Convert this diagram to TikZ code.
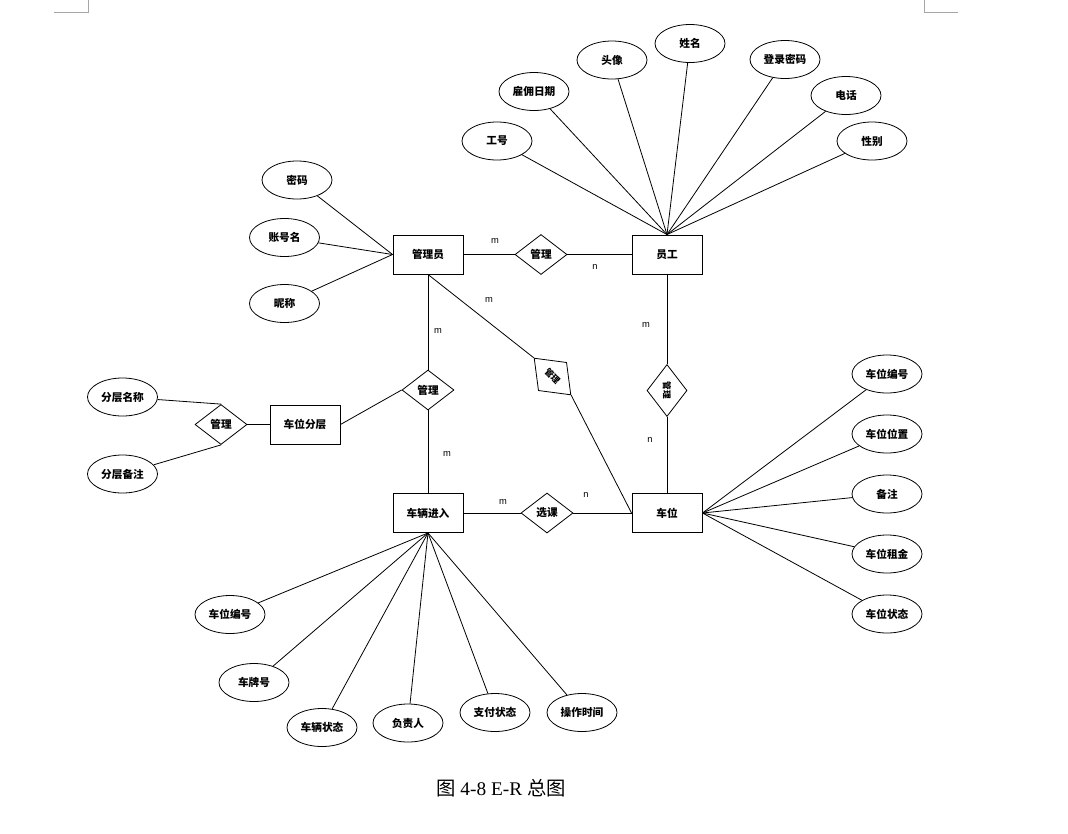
\documentclass[tikz,border=0pt]{standalone}
\usepackage{fontspec}
\setmainfont{Liberation Serif}
\newfontfamily\cjk{Noto Sans CJK SC}
\newfontfamily\lab{Liberation Sans}
\usetikzlibrary{shapes.geometric}
\tikzset{
  ent/.style={draw, rectangle, minimum width=52.5pt, minimum height=29.25pt, inner sep=0pt, font=\cjk\fontsize{8}{9}\selectfont\bfseries, line width=0.7pt},
  att/.style={draw, ellipse, minimum width=52.5pt, minimum height=28.5pt, inner sep=0pt, font=\cjk\fontsize{8}{9}\selectfont\bfseries, line width=0.6pt},
  rel/.style={draw, diamond, minimum width=39pt, minimum height=30pt, inner sep=0pt, font=\cjk\fontsize{8}{9}\selectfont\bfseries, line width=0.6pt},
  relsmall/.style={rel, font=\cjk\fontsize{6.5}{7}\selectfont\bfseries},
  card/.style={font=\lab\fontsize{7}{8}\selectfont, inner sep=0pt},
  conn/.style={line width=0.6pt},
  corner/.style={draw=gray!70, line width=0.6pt}
}
\begin{document}
\begin{tikzpicture}[x=0.75pt, y=-0.75pt]
\useasboundingbox (0,0) rectangle (1068,833);
% corner marks
\draw[corner] (54,12) -- (88,12) -- (88,0);
\draw[corner] (958,12) -- (924,12) -- (924,0);

% entities
\node[ent] (gly) at (428,254.5) {管理员};
\node[ent] (yg) at (667,254.5) {员工};
\node[ent] (cwfc) at (305,424.5) {车位分层};
\node[ent] (clrj) at (428,513) {车辆进入};
\node[ent] (cw) at (667,513) {车位};

% relationships
\node[rel] (r1) at (541,254.5) {管理};
\node[rel] (r2) at (428,390) {管理};
\node[rel] (r3) at (221,424.5) {管理};
\node[rel] (r4) at (547,513) {选课};
\node[relsmall, rotate=-45] (r5) at (552.5,376.5) {管理};
\node[relsmall, rotate=-90] (r6) at (667,390.5) {管理};

% attributes of 员工
\node[att] (a1) at (497,141) {工号};
\node[att] (a2) at (534,91.5) {雇佣日期};
\node[att] (a3) at (612,60) {头像};
\node[att] (a4) at (690,43.5) {姓名};
\node[att] (a5) at (785,59.5) {登录密码};
\node[att] (a6) at (846,95.5) {电话};
\node[att] (a7) at (872,141) {性别};
\foreach \a in {a1,a2,a3,a4,a5,a6,a7} \draw[conn] (\a) -- (yg.north);

% attributes of 管理员
\node[att] (b1) at (297,180) {密码};
\node[att] (b2) at (284.5,237.5) {账号名};
\node[att] (b3) at (284.5,303.5) {昵称};
\foreach \a in {b1,b2,b3} \draw[conn] (\a) -- (gly.west);

% attributes of 车位分层 (via diamond)
\node[att] (c1) at (122.5,397) {分层名称};
\node[att] (c2) at (122.5,474) {分层备注};
\draw[conn] (c1) -- (r3.north);
\draw[conn] (c2) -- (r3.south);
\draw[conn] (r3.east) -- (cwfc.west);

% attributes of 车位
\node[att] (d1) at (887,374) {车位编号};
\node[att] (d2) at (887,434) {车位位置};
\node[att] (d3) at (887,494) {备注};
\node[att] (d4) at (887,554) {车位租金};
\node[att] (d5) at (887,614) {车位状态};
\foreach \a in {d1,d2,d3,d4,d5} \draw[conn] (\a) -- (cw.east);

% attributes of 车辆进入
\node[att] (e1) at (230,614.5) {车位编号};
\node[att] (e2) at (254,682.5) {车牌号};
\node[att] (e3) at (322,727.5) {车辆状态};
\node[att] (e4) at (408,723) {负责人};
\node[att] (e5) at (495,712.5) {支付状态};
\node[att] (e6) at (582,712.5) {操作时间};
\foreach \a in {e1,e2,e3,e4,e5,e6} \draw[conn] (\a) -- (clrj.south);

% relationship connectors
\draw[conn] (gly.east) -- (r1.west);
\draw[conn] (r1.east) -- (yg.west);
\draw[conn] (gly.south) -- (r2.north);
\draw[conn] (r2.south) -- (clrj.north);
\draw[conn] (cwfc.east) -- (r2.west);
\draw[conn] (clrj.east) -- (r4.west);
\draw[conn] (r4.east) -- (cw.west);
\draw[conn] (gly.south) -- (r5.west);
\draw[conn] (r5.east) -- (cw.west);
\draw[conn] (yg.south) -- (r6.west);
\draw[conn] (r6.east) -- (cw.north);

% cardinalities
\node[card] (m1) at (495,241) {m};
\node[card] (n1) at (595,267) {n};
\node[card] (m2) at (489,300) {m};
\node[card] (m3) at (438,331) {m};
\node[card] (m4) at (646,325) {m};
\node[card] (n2) at (650,440) {n};
\node[card] (m5) at (447,454) {m};
\node[card] (m6) at (503,502) {m};
\node[card] (n3) at (586,495) {n};

% caption
\node[font=\fontsize{14.5}{16}\selectfont, inner sep=0pt] (cap) at (501,788) {{\cjk 图} 4-8 E-R {\cjk 总图}};
\end{tikzpicture}
\end{document}
